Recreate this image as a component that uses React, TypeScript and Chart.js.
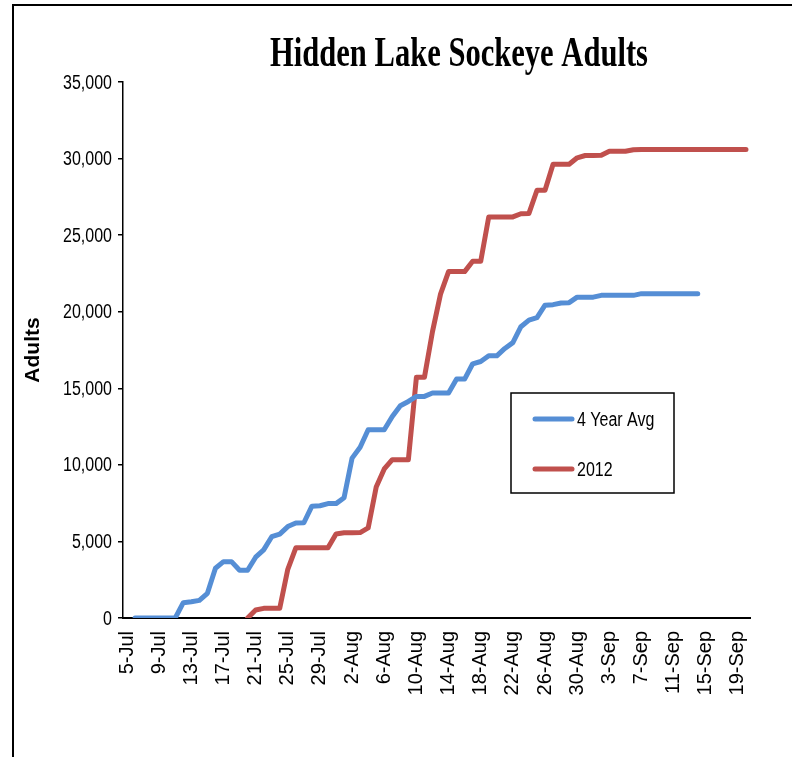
import { useEffect, useRef } from 'react';
import { Chart, registerables } from 'chart.js';

Chart.register(...registerables);

// Daily categories, 5-Jul through 20-Sep
const dates = [
  '5-Jul', '6-Jul', '7-Jul', '8-Jul', '9-Jul', '10-Jul', '11-Jul', '12-Jul', '13-Jul', '14-Jul',
  '15-Jul', '16-Jul', '17-Jul', '18-Jul', '19-Jul', '20-Jul', '21-Jul', '22-Jul', '23-Jul', '24-Jul',
  '25-Jul', '26-Jul', '27-Jul', '28-Jul', '29-Jul', '30-Jul', '31-Jul', '1-Aug', '2-Aug', '3-Aug',
  '4-Aug', '5-Aug', '6-Aug', '7-Aug', '8-Aug', '9-Aug', '10-Aug', '11-Aug', '12-Aug', '13-Aug',
  '14-Aug', '15-Aug', '16-Aug', '17-Aug', '18-Aug', '19-Aug', '20-Aug', '21-Aug', '22-Aug', '23-Aug',
  '24-Aug', '25-Aug', '26-Aug', '27-Aug', '28-Aug', '29-Aug', '30-Aug', '31-Aug', '1-Sep', '2-Sep',
  '3-Sep', '4-Sep', '5-Sep', '6-Sep', '7-Sep', '8-Sep', '9-Sep', '10-Sep', '11-Sep', '12-Sep',
  '13-Sep', '14-Sep', '15-Sep', '16-Sep', '17-Sep', '18-Sep', '19-Sep', '20-Sep',
];

// Cumulative adult counts, 4-year average
const fourYearAvg: (number | null)[] = [
  null, 0, 0, 0, 0, 0, 0, 1000, 1060, 1150,
  1610, 3250, 3680, 3680, 3120, 3120, 3970, 4450, 5310, 5480,
  5970, 6200, 6220, 7300, 7330, 7470, 7470, 7850, 10440, 11150,
  12290, 12290, 12290, 13160, 13860, 14140, 14470, 14470, 14690, 14690,
  14690, 15600, 15600, 16600, 16750, 17120, 17120, 17600, 17980, 19020,
  19450, 19620, 20430, 20460, 20570, 20590, 20950, 20950, 20950, 21070,
  21070, 21070, 21070, 21070, 21180, 21180, 21180, 21180, 21180, 21180,
  21180, 21180, null, null, null, null, null, null,
];

// Cumulative adult counts, 2012 season
const season2012: (number | null)[] = [
  null, null, null, null, null, null, null, null, null, null,
  null, null, null, null, null, 0, 520, 630, 630, 630,
  3180, 4580, 4580, 4580, 4580, 4580, 5490, 5560, 5560, 5580,
  5880, 8550, 9730, 10340, 10340, 10340, 15720, 15720, 18700, 21150,
  22620, 22620, 22620, 23290, 23290, 26190, 26190, 26190, 26190, 26400,
  26420, 27930, 27930, 29630, 29630, 29630, 30050, 30200, 30200, 30220,
  30480, 30480, 30480, 30580, 30590, 30590, 30590, 30590, 30590, 30590,
  30590, 30590, 30590, 30590, 30590, 30590, 30590, 30590,
];

const seriesNames = ['4 Year Avg', '2012'];
const seriesColors = ['#558ED5', '#C0504D'];

const chartTitle = 'Hidden Lake Sockeye Adults';
const yAxisTitle = 'Adults';
const labelEvery = 4;

const sansFamily = '"Liberation Sans", Arial, sans-serif';
// Horizontal squeeze applied to the value labels and legend text
const squeeze = 0.8;

const titlePlugin = {
  id: 'serifTitle',
  afterDraw(chart: any) {
    const { ctx } = chart;
    ctx.save();
    ctx.fillStyle = '#000';
    ctx.font = 'bold 42px "Liberation Serif", "Times New Roman", serif';
    ctx.textAlign = 'center';
    ctx.textBaseline = 'alphabetic';
    ctx.fillText(chartTitle, 459, 66, 378);
    ctx.restore();
  },
};

// Condensed value labels for the y axis, placed from the scale's own ticks
const yLabelPlugin = {
  id: 'condensedYLabels',
  afterDraw(chart: any) {
    const { ctx } = chart;
    const scale = chart.scales.y;
    ctx.save();
    ctx.fillStyle = '#000';
    ctx.font = `20px ${sansFamily}`;
    ctx.textAlign = 'right';
    ctx.textBaseline = 'middle';
    const right = scale.right - 11;
    scale.ticks.forEach((t: any) => {
      const text = Number(t.value).toLocaleString('en-US');
      const w = ctx.measureText(text).width * squeeze;
      ctx.fillText(text, right, scale.getPixelForValue(t.value) + 1, w);
    });
    ctx.restore();
  },
};

const boxLegendPlugin = {
  id: 'boxLegend',
  afterDraw(chart: any) {
    const { ctx } = chart;
    const x0 = 511;
    const y0 = 393;
    const w = 163;
    const h = 100;
    ctx.save();
    ctx.fillStyle = '#fff';
    ctx.fillRect(x0, y0, w, h);
    ctx.strokeStyle = '#000';
    ctx.lineWidth = 1.5;
    ctx.strokeRect(x0, y0, w, h);
    chart.data.datasets.forEach((ds: any, i: number) => {
      const y = y0 + 26 + i * 50;
      ctx.strokeStyle = ds.borderColor;
      ctx.lineWidth = 5;
      ctx.lineCap = 'round';
      ctx.beginPath();
      ctx.moveTo(x0 + 24, y);
      ctx.lineTo(x0 + 61, y);
      ctx.stroke();
      ctx.fillStyle = '#000';
      ctx.font = `20px ${sansFamily}`;
      ctx.textAlign = 'left';
      ctx.textBaseline = 'middle';
      const tw = ctx.measureText(ds.label).width * squeeze;
      ctx.fillText(ds.label, x0 + 66, y + 1, tw);
    });
    ctx.restore();
  },
};

export default function App() {
  const canvasRef = useRef<HTMLCanvasElement | null>(null);

  useEffect(() => {
    if (!canvasRef.current) return;
    const chart = new Chart(canvasRef.current, {
      type: 'line',
      data: {
        labels: dates,
        datasets: [
          {
            label: seriesNames[0],
            data: fourYearAvg,
            borderColor: seriesColors[0],
            backgroundColor: seriesColors[0],
            borderWidth: 5,
            borderCapStyle: 'round',
            borderJoinStyle: 'round',
            pointRadius: 0,
            tension: 0,
          },
          {
            label: seriesNames[1],
            data: season2012,
            borderColor: seriesColors[1],
            backgroundColor: seriesColors[1],
            borderWidth: 5,
            borderCapStyle: 'round',
            borderJoinStyle: 'round',
            pointRadius: 0,
            tension: 0,
          },
        ],
      },
      options: {
        responsive: false,
        animation: false,
        layout: { padding: { left: 17, top: 82, right: 42, bottom: 39 } },
        plugins: {
          legend: { display: false },
          title: { display: false },
          tooltip: { enabled: false },
        },
        scales: {
          x: {
            type: 'category',
            offset: true,
            grid: { display: false, drawTicks: false },
            border: { display: true, color: '#000', width: 2 },
            ticks: {
              autoSkip: false,
              minRotation: 90,
              maxRotation: 90,
              padding: 13,
              color: '#000',
              font: { family: sansFamily, size: 20 },
              callback: (_v: any, i: number) => (i % labelEvery === 0 ? dates[i] : ''),
            },
            afterFit: (scale: any) => {
              scale.height = 100;
            },
          },
          y: {
            min: 0,
            max: 35000,
            grid: {
              display: true,
              drawOnChartArea: false,
              drawTicks: true,
              tickLength: 5,
              color: '#000',
              lineWidth: 1.5,
            },
            border: { display: true, color: '#000', width: 1.5 },
            ticks: {
              stepSize: 5000,
              display: false,
            },
            title: {
              display: true,
              text: yAxisTitle,
              color: '#000',
              font: { family: sansFamily, size: 21, weight: 'bold' },
              padding: { top: 4, bottom: 11 },
            },
            afterFit: (scale: any) => {
              scale.width = 106;
            },
          },
        },
      },
      plugins: [titlePlugin, yLabelPlugin, boxLegendPlugin],
    } as any);
    return () => chart.destroy();
  }, []);

  return (
    <div
      style={{
        position: 'fixed',
        left: 0,
        top: 0,
        width: 792,
        height: 757,
        background: '#fff',
        overflow: 'hidden',
      }}
    >
      <div
        style={{
          position: 'absolute',
          left: 12,
          top: 4,
          width: 800,
          height: 800,
          borderTop: '2px solid #000',
          borderLeft: '2px solid #000',
          boxSizing: 'border-box',
        }}
      />
      <canvas
        ref={canvasRef}
        width={792}
        height={757}
        style={{ position: 'absolute', left: 0, top: 0 }}
      />
    </div>
  );
}
